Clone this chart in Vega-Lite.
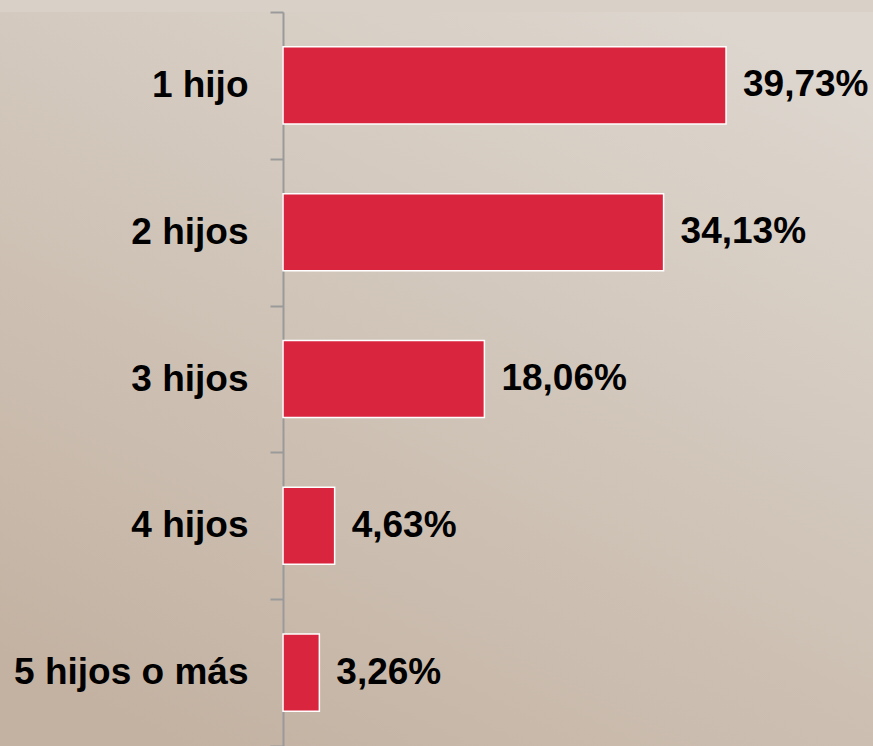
{
  "$schema": "https://vega.github.io/schema/vega-lite/v6.json",
  "autosize": {"type": "none"},
  "padding": {"top": 12, "left": 0, "right": 0, "bottom": 0},
  "width": 873,
  "height": 734,
  "background": "#d9d1c8",
  "config": {
    "view": {
      "stroke": null,
      "fill": {
        "gradient": "linear",
        "x1": 0.8, "y1": 0, "x2": 0.2, "y2": 1,
        "stops": [
          {"offset": 0, "color": "#ddd6ce"},
          {"offset": 1, "color": "#c3b2a2"}
        ]
      }
    },
    "font": "Liberation Sans"
  },
  "data": {
    "values": [
      {"categoria": "1 hijo", "pct": 39.73, "label": "39,73%"},
      {"categoria": "2 hijos", "pct": 34.13, "label": "34,13%"},
      {"categoria": "3 hijos", "pct": 18.06, "label": "18,06%"},
      {"categoria": "4 hijos", "pct": 4.63, "label": "4,63%"},
      {"categoria": "5 hijos o más", "pct": 3.26, "label": "3,26%"}
    ]
  },
  "encoding": {
    "y": {
      "field": "categoria",
      "type": "nominal",
      "sort": null,
      "scale": {"paddingInner": 0, "paddingOuter": 0},
      "axis": {
        "title": null,
        "offset": -283,
        "domainColor": "#9a9a9a",
        "domainWidth": 2,
        "tickColor": "#9a9a9a",
        "tickWidth": 2,
        "tickSize": 13,
        "tickBand": "extent",
        "labelPadding": 22,
        "labelLimit": 0,
        "labelFont": "Liberation Sans",
        "labelFontSize": 37,
        "labelFontWeight": "bold",
        "labelColor": "#000000",
        "grid": false
      }
    }
  },
  "layer": [
    {
      "mark": {"type": "bar", "fill": "#d9253e", "stroke": "#ffffff", "strokeWidth": 1.5, "height": {"band": 0.525}},
      "encoding": {
        "x": {
          "field": "pct",
          "type": "quantitative",
          "scale": {"domain": [-25.38, 52.91], "nice": false, "zero": false},
          "axis": null
        },
        "x2": {"datum": 0}
      }
    },
    {
      "mark": {
        "type": "text",
        "align": "left",
        "baseline": "middle",
        "dx": 17,
        "font": "Liberation Sans",
        "fontSize": 37,
        "fontWeight": "bold",
        "color": "#000000"
      },
      "encoding": {
        "x": {"field": "pct", "type": "quantitative"},
        "text": {"field": "label"}
      }
    }
  ]
}
